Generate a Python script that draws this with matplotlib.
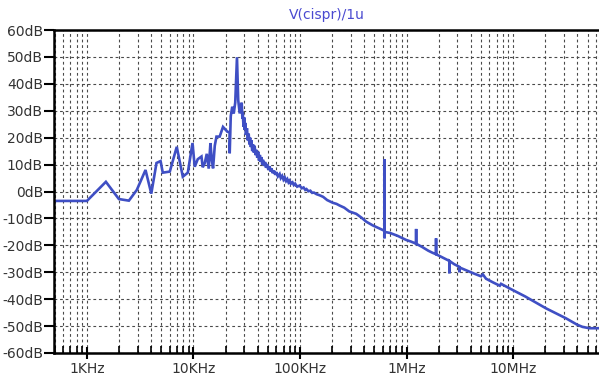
import numpy as np
import matplotlib
matplotlib.use('Agg')
import matplotlib.pyplot as plt
from matplotlib.ticker import FixedLocator, LogLocator, NullFormatter

# Spectrum trace (Hz, dB)
freq_hz = [
    491, 1000, 1507, 1995, 2477, 2942, 3548, 4020, 4498, 4909,
    5152, 5998, 6970, 7943, 8851, 9795, 10280, 10970, 11890, 12220,
    12760, 13330, 13910, 14430, 14840, 15270, 15850, 16440, 17620, 18930,
    20830, 21880, 21880, 22390, 23120, 23880, 24660, 25610, 26300, 27160,
    28370, 28800, 29000, 29500, 30000, 30270, 30800, 31000, 31800, 32300,
    32980, 33500, 34000, 34600, 35000, 35600, 36220, 36800, 37500, 38200,
    38990, 39700, 40500, 41200, 42000, 42800, 43500, 44200, 44910, 46000,
    47000, 48000, 49000, 50500, 51880, 53000, 54000, 55500, 57000, 58500,
    60000, 62000, 64390, 66000, 68000, 70000, 72000, 74000, 76000, 78000,
    79920, 82000, 85000, 87500, 90000, 94000, 99100, 104000, 108000, 112000,
    115000, 120000, 125000, 130000, 135000, 143000, 152700, 165000, 180000, 203300,
    220000, 235000, 260000, 290000, 337100, 380000, 418100, 482100, 560000,
    620800, 620800, 620800, 620800,
    700000, 827600, 991000, 1.1e6,
    1.23e6, 1.23e6, 1.23e6,
    1.4e6, 1.6e6, 1.76e6,
    1.892e6, 1.892e6, 1.892e6,
    2.2e6,
    2.523e6, 2.523e6, 2.523e6,
    2.8e6,
    3.131e6, 3.131e6, 3.131e6,
    3.6e6, 4.3e6, 5.0e6, 5.2e6, 5.57e6, 6.5e6, 7.5e6, 7.7e6, 9.91e6,
    13e6, 20.34e6, 31.3e6, 40e6, 44.8e6, 52e6, 64e6,
]
level_db = [
    -3.5, -3.5, 3.6, -2.8, -3.4, 0.6, 8.0, -0.8, 10.6, 11.3,
    7.0, 7.4, 16.6, 5.5, 7.0, 18.0, 9.2, 12.0, 13.0, 9.0,
    10.5, 14.0, 8.5, 18.0, 12.0, 8.6, 17.0, 20.4, 20.4, 24.0,
    22.2, 22.0, 14.2, 28.0, 31.5, 29.0, 33.0, 49.9, 34.0, 29.0,
    33.0, 27.0, 29.5, 24.0, 27.5, 22.9, 25.5, 21.0, 23.5, 19.0,
    21.5, 17.5, 20.0, 16.5, 19.0, 15.0, 17.5, 14.5, 17.0, 13.5,
    15.5, 12.5, 14.8, 11.5, 13.6, 11.0, 12.8, 10.0, 11.8, 9.5,
    11.0, 8.8, 10.2, 8.0, 9.4, 7.4, 8.6, 6.8, 7.8, 6.2,
    7.2, 5.6, 6.5, 5.0, 5.8, 4.4, 5.2, 3.9, 4.6, 3.4,
    4.0, 2.9, 3.4, 2.4, 2.9, 1.8, 2.2, 1.2, 1.5, 0.6,
    0.9, 0.1, 0.3, -0.5, -0.4, -1.0, -1.4, -2.0, -3.2, -4.2,
    -4.6, -5.2, -6.0, -7.4, -8.3, -9.8, -11.2, -12.6, -13.8,
    -14.6, 12.0, -17.4, -15.0,
    -15.4, -16.5, -18.0, -18.6,
    -19.4, -13.9, -19.4,
    -20.6, -22.0, -22.8,
    -23.3, -17.4, -23.3,
    -24.6,
    -25.8, -30.4, -25.8,
    -27.0,
    -28.0, -30.0, -28.2,
    -29.2, -30.5, -31.5, -30.8, -32.4, -33.8, -35.0, -34.3, -36.6,
    -39.0, -43.4, -47.1, -49.5, -50.3, -50.8, -50.8,
]

y_ticks = [-60, -50, -40, -30, -20, -10, 0, 10, 20, 30, 40, 50, 60]
y_labels = ['-60dB', '-50dB', '-40dB', '-30dB', '-20dB', '-10dB', '0dB',
            '10dB', '20dB', '30dB', '40dB', '50dB', '60dB']
x_ticks = [1e3, 1e4, 1e5, 1e6, 1e7]
x_labels = ['1KHz', '10KHz', '100KHz', '1MHz', '10MHz']

TRACE_COLOR = '#3f4fc4'
TITLE_COLOR = '#4a4ad0'
GRID_COLOR = '#4a4a4a'
TEXT_COLOR = '#333333'


def main():
    plt.rcParams['font.family'] = ['DejaVu Sans']
    fig = plt.figure(figsize=(5.99, 3.80), dpi=100)
    ax = fig.add_axes([54 / 599, 27 / 380, 1 - 54 / 599, 323 / 380])

    ax.plot(freq_hz, level_db, color=TRACE_COLOR, linewidth=1.9,
            solid_joinstyle='miter')

    ax.set_xscale('log')
    ax.set_xlim(491, 6.4e7)
    ax.set_ylim(-60, 60)

    # grid: major + minor on x, only 10 dB steps on y
    ax.xaxis.set_major_locator(FixedLocator(x_ticks))
    ax.set_xticklabels(x_labels)
    ax.xaxis.set_minor_locator(LogLocator(base=10, subs=np.arange(2, 10)))
    ax.xaxis.set_minor_formatter(NullFormatter())
    ax.set_yticks(y_ticks)
    ax.set_yticklabels(y_labels)

    dash = (0, (2.5, 2.5))
    ax.grid(True, which='major', axis='both', color=GRID_COLOR,
            linestyle=dash, linewidth=0.8)
    ax.grid(True, which='minor', axis='x', color=GRID_COLOR,
            linestyle=dash, linewidth=0.8)
    ax.set_axisbelow(True)

    ax.tick_params(axis='y', which='major', direction='out', length=7,
                   width=1.5, colors='black', labelcolor=TEXT_COLOR,
                   labelsize=10, pad=1)
    ax.tick_params(axis='x', which='major', direction='inout', length=9,
                   width=1.5, colors='black', labelcolor=TEXT_COLOR,
                   labelsize=10, pad=2)
    ax.tick_params(axis='x', which='minor', direction='in', length=5,
                   width=1.2, colors='black')

    for side in ['left', 'bottom', 'top']:
        ax.spines[side].set_linewidth(1.8)
        ax.spines[side].set_color('black')
    ax.spines['right'].set_visible(False)

    fig.text((54 + 599) / 2 / 599, 1 - 15 / 380, 'V(cispr)/1u',
             ha='center', va='center', color=TITLE_COLOR, fontsize=10)

    fig.savefig('out.png', dpi=100, facecolor='white')


if __name__ == "__main__":
    main()
